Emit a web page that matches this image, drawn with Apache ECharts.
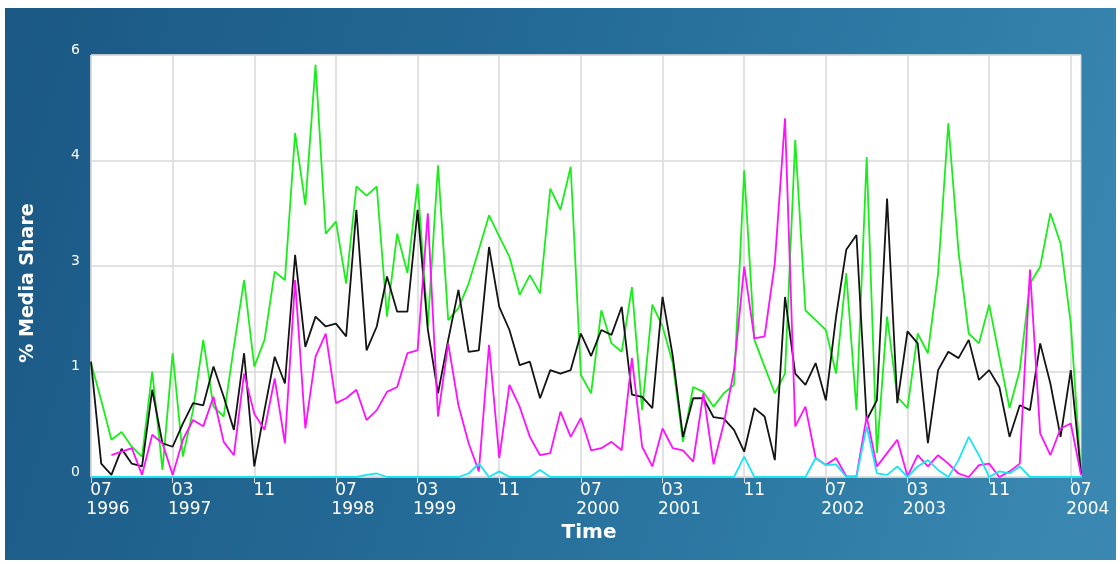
<!DOCTYPE html>
<html>
<head>
<meta charset="utf-8">
<script src="https://cdn.jsdelivr.net/npm/echarts@6/dist/echarts.min.js"></script>
<style>
html,body{margin:0;padding:0;background:#ffffff;}
#chart{width:1120px;height:564px;}
</style>
</head>
<body>
<div id="chart"></div>
<script>
// Months 07/1996 .. 08/2004 (98 monthly points)
const months = [
'1996-07','1996-08','1996-09','1996-10','1996-11','1996-12',
'1997-01','1997-02','1997-03','1997-04','1997-05','1997-06','1997-07','1997-08','1997-09','1997-10','1997-11','1997-12',
'1998-01','1998-02','1998-03','1998-04','1998-05','1998-06','1998-07','1998-08','1998-09','1998-10','1998-11','1998-12',
'1999-01','1999-02','1999-03','1999-04','1999-05','1999-06','1999-07','1999-08','1999-09','1999-10','1999-11','1999-12',
'2000-01','2000-02','2000-03','2000-04','2000-05','2000-06','2000-07','2000-08','2000-09','2000-10','2000-11','2000-12',
'2001-01','2001-02','2001-03','2001-04','2001-05','2001-06','2001-07','2001-08','2001-09','2001-10','2001-11','2001-12',
'2002-01','2002-02','2002-03','2002-04','2002-05','2002-06','2002-07','2002-08','2002-09','2002-10','2002-11','2002-12',
'2003-01','2003-02','2003-03','2003-04','2003-05','2003-06','2003-07','2003-08','2003-09','2003-10','2003-11','2003-12',
'2004-01','2004-02','2004-03','2004-04','2004-05','2004-06','2004-07','2004-08'
];

const xTickLabels = ['07\n1996','03\n1997','11','07\n1998','03\n1999','11','07\n2000','03\n2001','11','07\n2002','03\n2003','11','07\n2004'];
const yTickLabels = ['0','1','3','4','6'];

const greenSeries = [
1.62,1.09,0.53,0.64,0.43,0.29,1.50,0.10,1.76,0.29,0.95,1.95,
1.00,0.86,1.85,2.80,1.57,1.95,2.92,2.80,4.89,3.87,5.86,3.46,
3.63,2.75,4.13,4.00,4.13,2.28,3.46,2.90,4.17,2.14,4.43,2.23,
2.40,2.75,3.23,3.72,3.42,3.13,2.59,2.87,2.61,4.10,3.80,4.41,
1.45,1.19,2.37,1.90,1.78,2.70,0.95,2.45,2.14,1.62,0.50,1.28,
1.21,1.00,1.19,1.31,4.36,1.95,1.57,1.19,1.47,4.79,2.37,2.23,
2.09,1.47,2.90,0.95,4.55,0.34,2.28,1.14,0.98,2.04,1.76,2.90,
5.03,3.20,2.04,1.90,2.45,1.71,0.98,1.52,2.75,2.99,3.75,3.32,
2.18,0.03
];

const blackSeries = [
1.64,0.19,0.03,0.40,0.19,0.15,1.24,0.48,0.43,0.76,1.05,1.02,
1.57,1.14,0.67,1.76,0.15,0.95,1.71,1.33,3.16,1.85,2.28,2.14,
2.18,2.00,3.80,1.80,2.14,2.85,2.35,2.35,3.80,2.10,1.19,1.95,
2.66,1.78,1.80,3.27,2.42,2.09,1.59,1.64,1.12,1.52,1.47,1.52,
2.04,1.72,2.09,2.02,2.42,1.17,1.14,0.98,2.56,1.72,0.57,1.12,
1.12,0.85,0.83,0.67,0.36,0.98,0.86,0.24,2.56,1.47,1.31,1.62,
1.09,2.28,3.23,3.44,0.81,1.09,3.96,1.05,2.07,1.90,0.48,1.52,
1.78,1.69,1.95,1.38,1.52,1.28,0.57,1.02,0.95,1.90,1.33,0.57,
1.52,0.05
];

const magentaSeries = [
null,null,0.31,0.36,0.41,0.03,0.60,0.48,0.03,0.53,0.81,0.72,
1.14,0.50,0.31,1.47,0.90,0.67,1.40,0.48,2.80,0.69,1.71,2.04,
1.05,1.12,1.24,0.81,0.95,1.21,1.28,1.76,1.80,3.75,0.86,1.90,
1.02,0.48,0.08,1.88,0.27,1.31,1.00,0.57,0.31,0.34,0.93,0.57,
0.84,0.38,0.41,0.50,0.38,1.69,0.43,0.15,0.69,0.41,0.38,0.22,
1.19,0.18,0.76,1.52,2.99,1.97,2.00,3.04,5.10,0.72,1.00,0.27,
0.17,0.27,0.01,0.01,0.86,0.15,0.34,0.53,0.01,0.31,0.15,0.31,
0.19,0.05,0.00,0.17,0.19,0.00,0.08,0.19,2.95,0.62,0.31,0.69,
0.76,0.03
];

const cyanSeries = [
0,0,0,0,0,0,0,0,0,0,0,0,
0,0,0,0,0,0,0,0,0,0,0,0,
0,0,0,0.03,0.05,0,0,0,0,0,0,0,
0,0.05,0.19,0,0.08,0,0,0,0.10,0,0,0,
0,0,0,0,0,0,0,0,0,0,0,0,
0,0,0,0,0.29,0,0,0,0,0,0,0.27,
0.17,0.18,0,0,0.72,0.05,0.03,0.15,0,0.15,0.24,0.10,
0,0.24,0.57,0.31,0,0.08,0.05,0.15,0,0,0,0,
0,0
];

const chart = echarts.init(document.getElementById('chart'), null, {renderer:'canvas'});
const tickEvery = (i) => i % 8 === 0;

function lineSeries(name, data, color){
  return {
    name: name, type: 'line', data: data, showSymbol: false, symbol: 'none',
    connectNulls: false,
    lineStyle: {color: color, width: 1.8},
    itemStyle: {color: color},
    animation: false
  };
}

chart.setOption({
  animation: false,
  backgroundColor: '#ffffff',
  graphic: [
    {
      type: 'rect', z: -100, silent: true,
      shape: {x: 5, y: 8, width: 1111, height: 552},
      style: {
        fill: new echarts.graphic.LinearGradient(0, 0, 1, 0.6, [
          {offset: 0, color: '#1b5884'},
          {offset: 0.45, color: '#246a96'},
          {offset: 0.75, color: '#2d7aa5'},
          {offset: 1, color: '#3a88b1'}
        ])
      }
    },
    {
      type: 'text', silent: true,
      x: 28, y: 283, rotation: Math.PI / 2,
      style: {
        text: '% Media Share', fill: '#ffffff',
        font: 'bold 19px "DejaVu Sans"',
        align: 'center', verticalAlign: 'middle'
      }
    },
    {
      type: 'text', silent: true,
      x: 589, y: 533,
      style: {
        text: 'Time', fill: '#ffffff',
        font: 'bold 20px "DejaVu Sans"',
        align: 'center', verticalAlign: 'middle'
      }
    }
  ],
  grid: {
    left: 91, top: 55, right: 39, bottom: 87,
    show: true, backgroundColor: '#ffffff', borderColor: '#d4d4d4', borderWidth: 1
  },
  xAxis: {
    type: 'category',
    data: months,
    boundaryGap: false,
    axisLine: {show: true, lineStyle: {color: '#d0d0d0', width: 1}},
    axisTick: {show: true, interval: tickEvery, length: 6, lineStyle: {color: '#d8d8d8', width: 1}},
    axisLabel: {
      show: true, interval: tickEvery, color: '#ffffff', margin: 4,
      align: 'center',
      fontFamily: 'DejaVu Sans', fontSize: 17, lineHeight: 19,
      formatter: function (value, index) {
        const lbl = xTickLabels[Math.round(index / 8)];
        if (lbl === undefined) return '';
        const parts = lbl.split('\n');
        return parts.length > 1 ? '{m|' + parts[0] + '}\n{y|' + parts[1] + '}' : '{m|' + parts[0] + '}';
      },
      rich: {
        m: {color: '#ffffff', fontFamily: 'DejaVu Sans', fontSize: 17, lineHeight: 19, padding: [0, 0, 0, 20]},
        y: {color: '#ffffff', fontFamily: 'DejaVu Sans', fontSize: 17, lineHeight: 19, padding: [0, 0, 0, 34]}
      }
    },
    splitLine: {show: true, interval: tickEvery, lineStyle: {color: '#d9d9d9', width: 1.5}}
  },
  yAxis: {
    type: 'value',
    min: 0, max: 6, interval: 1.5,
    axisLine: {show: false},
    axisTick: {show: false},
    axisLabel: {
      color: '#ffffff', fontFamily: 'DejaVu Sans', fontSize: 14, margin: 11,
      verticalAlign: 'bottom', lineHeight: 10,
      formatter: function (v) { return yTickLabels[Math.round(v / 1.5)]; }
    },
    splitLine: {show: true, lineStyle: {color: '#d9d9d9', width: 1.5}}
  },
  series: [
    lineSeries('green', greenSeries, '#1aee1a'),
    lineSeries('black', blackSeries, '#141414'),
    lineSeries('magenta', magentaSeries, '#ff10ff'),
    lineSeries('cyan', cyanSeries, '#1ee4f0')
  ]
});
</script>
</body>
</html>
